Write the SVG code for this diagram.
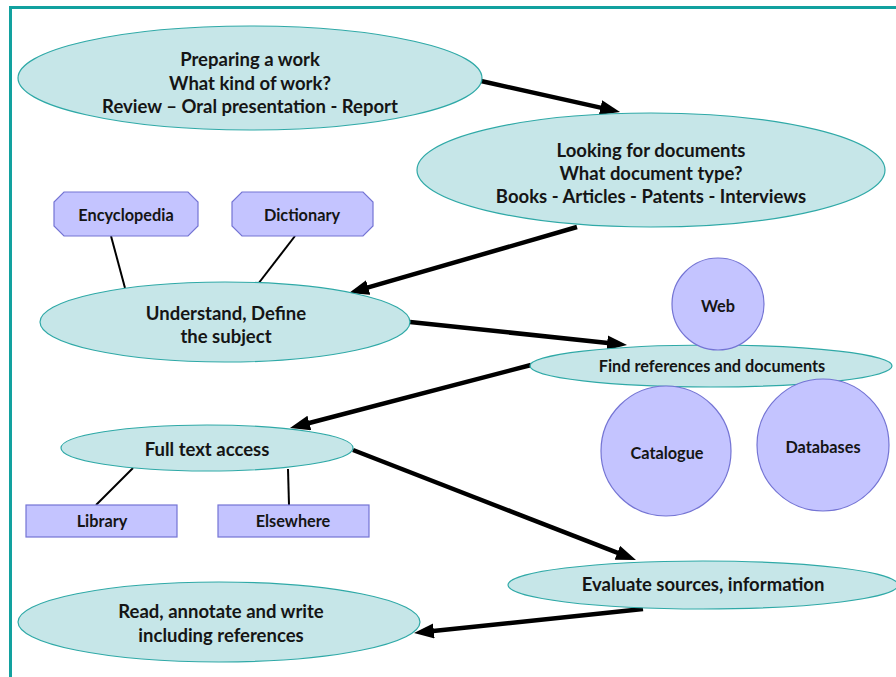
<svg xmlns="http://www.w3.org/2000/svg" width="896" height="677" viewBox="0 0 896 677">
<defs>
<style>
.el{fill:#c6e6e8;stroke:#2fa9a7;stroke-width:1.2}
.pu{fill:#c4c4ff;stroke:#7474d4;stroke-width:1.2}
.t{font-family:Lato,"Liberation Sans",sans-serif;font-weight:bold;fill:#151515;text-anchor:middle}
.big{font-size:18.5px}
.sm{font-size:16.3px}
.ln{stroke:#000;stroke-width:2;fill:none}
.ar{stroke:#000;stroke-width:4.5;fill:none;marker-end:url(#ah)}
</style>
<marker id="ah" markerUnits="userSpaceOnUse" markerWidth="22" markerHeight="16" refX="8" refY="7.5" orient="auto">
<path d="M0,0 L20,7.5 L0,15 z" fill="#000"/>
</marker>
</defs>
<rect width="896" height="677" fill="#fff"/>
<g id="frame" fill="none" stroke="#12a19f" stroke-width="3">
<line x1="9" y1="7.5" x2="896" y2="7.5"/>
<line x1="10.5" y1="6" x2="10.5" y2="677"/>
</g>
<g id="connectors">
<line class="ln" x1="111" y1="236" x2="125" y2="288"/>
<line class="ln" x1="295" y1="236" x2="258" y2="284"/>
<line class="ln" x1="133" y1="468" x2="96" y2="505"/>
<line class="ln" x1="288" y1="469" x2="289" y2="505"/>
<line class="ar" x1="481" y1="81" x2="608.3" y2="109.4"/>
<line class="ar" x1="577" y1="227" x2="360.5" y2="289.7"/>
<line class="ar" x1="410" y1="322" x2="615.1" y2="343.7"/>
<line class="ar" x1="531" y1="365" x2="301.6" y2="425"/>
<line class="ar" x1="353" y1="450" x2="624.8" y2="555.7"/>
<line class="ar" x1="643" y1="609" x2="425.9" y2="631.8"/>
</g>
<g id="n-preparing">
<ellipse class="el" cx="250" cy="78" rx="232" ry="52"/>
<text class="t big" x="250" y="66">Preparing a work</text>
<text class="t big" x="250" y="90">What kind of work?</text>
<text class="t big" x="250" y="113">Review – Oral presentation - Report</text>
</g>
<g id="n-looking">
<ellipse class="el" cx="651" cy="170" rx="234" ry="57"/>
<text class="t big" x="651" y="157">Looking for documents</text>
<text class="t big" x="651" y="180">What document type?</text>
<text class="t big" x="651" y="203">Books - Articles - Patents - Interviews</text>
</g>
<g id="n-encyclopedia">
<polygon class="pu" points="64,192 188,192 198,202 198,226 188,236 64,236 54,226 54,202"/>
<text class="t sm" x="126" y="221">Encyclopedia</text>
</g>
<g id="n-dictionary">
<polygon class="pu" points="242,192 363,192 373,202 373,226 363,236 242,236 232,226 232,202"/>
<text class="t sm" x="302" y="221">Dictionary</text>
</g>
<g id="n-understand">
<ellipse class="el" cx="225" cy="322" rx="185" ry="40"/>
<text class="t big" x="226" y="320">Understand, Define</text>
<text class="t big" x="226" y="343">the subject</text>
</g>
<g id="n-find">
<ellipse class="el" cx="711" cy="366" rx="181" ry="21"/>
<text class="t sm" x="712" y="372">Find references and documents</text>
</g>
<g id="n-web">
<circle class="pu" cx="718" cy="304" r="46"/>
<text class="t sm" x="718" y="312">Web</text>
</g>
<g id="n-catalogue">
<circle class="pu" cx="666" cy="451" r="65"/>
<text class="t sm" x="667" y="459">Catalogue</text>
</g>
<g id="n-databases">
<circle class="pu" cx="823" cy="445" r="66"/>
<text class="t sm" x="823" y="453">Databases</text>
</g>
<g id="n-fulltext">
<ellipse class="el" cx="207" cy="448" rx="146" ry="23"/>
<text class="t big" x="207" y="456">Full text access</text>
</g>
<g id="n-library">
<rect class="pu" x="26" y="505" width="151" height="32"/>
<text class="t sm" x="102" y="527">Library</text>
</g>
<g id="n-elsewhere">
<rect class="pu" x="218" y="505" width="151" height="32"/>
<text class="t sm" x="293" y="527">Elsewhere</text>
</g>
<g id="n-evaluate">
<ellipse class="el" cx="703" cy="585" rx="195" ry="24"/>
<text class="t big" x="703" y="591">Evaluate sources, information</text>
</g>
<g id="n-read">
<ellipse class="el" cx="219" cy="622" rx="201" ry="40"/>
<text class="t big" x="221" y="618">Read, annotate and write</text>
<text class="t big" x="221" y="642">including references</text>
</g>
</svg>
